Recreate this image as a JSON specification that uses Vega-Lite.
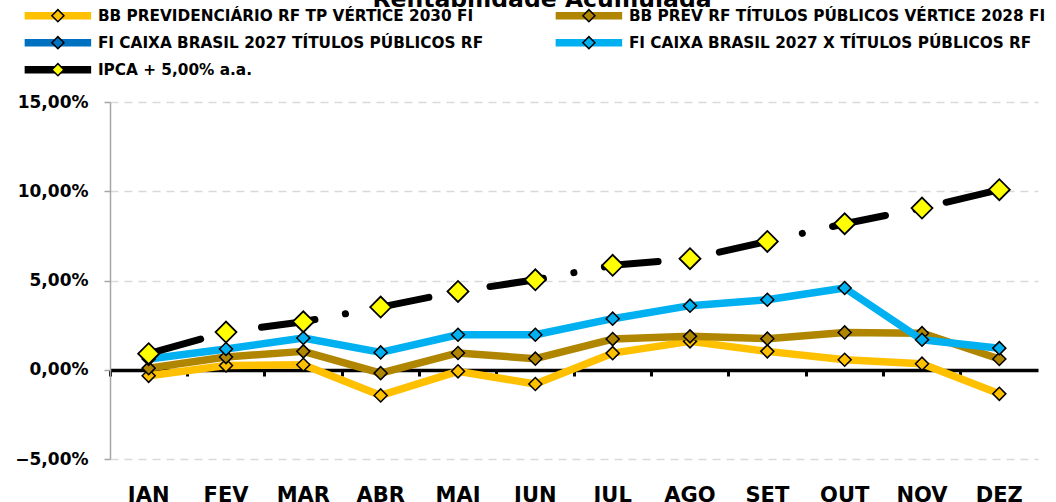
{
  "$schema": "https://vega.github.io/schema/vega-lite/v6.json",
  "width": 928,
  "height": 357,
  "autosize": "none",
  "padding": {"left": 110, "top": 102, "right": 18, "bottom": 43},
  "background": "white",
  "title": {"text": "Rentabilidade Acumulada", "font": "DejaVu Sans", "fontSize": 23.5, "fontWeight": "bold", "color": "black", "anchor": "middle", "frame": "group", "dx": -32, "offset": -25, "baseline": "alphabetic"},
  "config": {"view": {"stroke": null}, "font": "DejaVu Sans"},
  "data": {"values": [
    {"serie": "BB PREVIDENCIÁRIO RF TP VÉRTICE 2030 FI", "mes": "JAN", "v": -0.34},
    {"serie": "BB PREVIDENCIÁRIO RF TP VÉRTICE 2030 FI", "mes": "FEV", "v": 0.24},
    {"serie": "BB PREVIDENCIÁRIO RF TP VÉRTICE 2030 FI", "mes": "MAR", "v": 0.28},
    {"serie": "BB PREVIDENCIÁRIO RF TP VÉRTICE 2030 FI", "mes": "ABR", "v": -1.44},
    {"serie": "BB PREVIDENCIÁRIO RF TP VÉRTICE 2030 FI", "mes": "MAI", "v": -0.09},
    {"serie": "BB PREVIDENCIÁRIO RF TP VÉRTICE 2030 FI", "mes": "JUN", "v": -0.80},
    {"serie": "BB PREVIDENCIÁRIO RF TP VÉRTICE 2030 FI", "mes": "JUL", "v": 0.93},
    {"serie": "BB PREVIDENCIÁRIO RF TP VÉRTICE 2030 FI", "mes": "AGO", "v": 1.59},
    {"serie": "BB PREVIDENCIÁRIO RF TP VÉRTICE 2030 FI", "mes": "SET", "v": 1.03},
    {"serie": "BB PREVIDENCIÁRIO RF TP VÉRTICE 2030 FI", "mes": "OUT", "v": 0.56},
    {"serie": "BB PREVIDENCIÁRIO RF TP VÉRTICE 2030 FI", "mes": "NOV", "v": 0.34},
    {"serie": "BB PREVIDENCIÁRIO RF TP VÉRTICE 2030 FI", "mes": "DEZ", "v": -1.35},
    {"serie": "BB PREV RF TÍTULOS PÚBLICOS VÉRTICE 2028 FI", "mes": "JAN", "v": 0.09},
    {"serie": "BB PREV RF TÍTULOS PÚBLICOS VÉRTICE 2028 FI", "mes": "FEV", "v": 0.71},
    {"serie": "BB PREV RF TÍTULOS PÚBLICOS VÉRTICE 2028 FI", "mes": "MAR", "v": 1.03},
    {"serie": "BB PREV RF TÍTULOS PÚBLICOS VÉRTICE 2028 FI", "mes": "ABR", "v": -0.19},
    {"serie": "BB PREV RF TÍTULOS PÚBLICOS VÉRTICE 2028 FI", "mes": "MAI", "v": 0.94},
    {"serie": "BB PREV RF TÍTULOS PÚBLICOS VÉRTICE 2028 FI", "mes": "JUN", "v": 0.62},
    {"serie": "BB PREV RF TÍTULOS PÚBLICOS VÉRTICE 2028 FI", "mes": "JUL", "v": 1.72},
    {"serie": "BB PREV RF TÍTULOS PÚBLICOS VÉRTICE 2028 FI", "mes": "AGO", "v": 1.87},
    {"serie": "BB PREV RF TÍTULOS PÚBLICOS VÉRTICE 2028 FI", "mes": "SET", "v": 1.74},
    {"serie": "BB PREV RF TÍTULOS PÚBLICOS VÉRTICE 2028 FI", "mes": "OUT", "v": 2.09},
    {"serie": "BB PREV RF TÍTULOS PÚBLICOS VÉRTICE 2028 FI", "mes": "NOV", "v": 2.05},
    {"serie": "BB PREV RF TÍTULOS PÚBLICOS VÉRTICE 2028 FI", "mes": "DEZ", "v": 0.60},
    {"serie": "FI CAIXA BRASIL 2027 X TÍTULOS PÚBLICOS RF", "mes": "JAN", "v": 0.60},
    {"serie": "FI CAIXA BRASIL 2027 X TÍTULOS PÚBLICOS RF", "mes": "FEV", "v": 1.16},
    {"serie": "FI CAIXA BRASIL 2027 X TÍTULOS PÚBLICOS RF", "mes": "MAR", "v": 1.78},
    {"serie": "FI CAIXA BRASIL 2027 X TÍTULOS PÚBLICOS RF", "mes": "ABR", "v": 0.97},
    {"serie": "FI CAIXA BRASIL 2027 X TÍTULOS PÚBLICOS RF", "mes": "MAI", "v": 1.96},
    {"serie": "FI CAIXA BRASIL 2027 X TÍTULOS PÚBLICOS RF", "mes": "JUN", "v": 1.96},
    {"serie": "FI CAIXA BRASIL 2027 X TÍTULOS PÚBLICOS RF", "mes": "JUL", "v": 2.86},
    {"serie": "FI CAIXA BRASIL 2027 X TÍTULOS PÚBLICOS RF", "mes": "AGO", "v": 3.59},
    {"serie": "FI CAIXA BRASIL 2027 X TÍTULOS PÚBLICOS RF", "mes": "SET", "v": 3.92},
    {"serie": "FI CAIXA BRASIL 2027 X TÍTULOS PÚBLICOS RF", "mes": "OUT", "v": 4.58},
    {"serie": "FI CAIXA BRASIL 2027 X TÍTULOS PÚBLICOS RF", "mes": "NOV", "v": 1.68},
    {"serie": "FI CAIXA BRASIL 2027 X TÍTULOS PÚBLICOS RF", "mes": "DEZ", "v": 1.21},
    {"serie": "IPCA + 5,00% a.a.", "mes": "JAN", "v": 0.90},
    {"serie": "IPCA + 5,00% a.a.", "mes": "FEV", "v": 2.11},
    {"serie": "IPCA + 5,00% a.a.", "mes": "MAR", "v": 2.69},
    {"serie": "IPCA + 5,00% a.a.", "mes": "ABR", "v": 3.51},
    {"serie": "IPCA + 5,00% a.a.", "mes": "MAI", "v": 4.39},
    {"serie": "IPCA + 5,00% a.a.", "mes": "JUN", "v": 5.04},
    {"serie": "IPCA + 5,00% a.a.", "mes": "JUL", "v": 5.85},
    {"serie": "IPCA + 5,00% a.a.", "mes": "AGO", "v": 6.22},
    {"serie": "IPCA + 5,00% a.a.", "mes": "SET", "v": 7.19},
    {"serie": "IPCA + 5,00% a.a.", "mes": "OUT", "v": 8.18},
    {"serie": "IPCA + 5,00% a.a.", "mes": "NOV", "v": 9.06},
    {"serie": "IPCA + 5,00% a.a.", "mes": "DEZ", "v": 10.09}
  ]},
  "encoding": {
    "x": {"field": "mes", "type": "ordinal", "sort": ["JAN","FEV","MAR","ABR","MAI","JUN","JUL","AGO","SET","OUT","NOV","DEZ"], "scale": {"type": "band", "paddingInner": 0, "paddingOuter": 0}, "axis": null},
    "y": {"field": "v", "type": "quantitative", "scale": {"domain": [-5, 15], "nice": false, "zero": false},
      "axis": {"title": null, "values": [-5, 0, 5, 10, 15], "labelExpr": "replace(format(datum.value, '.2f'), '.', ',') + '%'",
        "labelFont": "DejaVu Sans", "labelFontWeight": "bold", "labelFontSize": 17, "labelColor": "black", "labelPadding": 16,
        "domainColor": "#A6A6A6", "domainWidth": 1.5, "tickColor": "#A6A6A6", "tickSize": 6, "tickWidth": 1.5,
        "grid": true, "gridColor": "#D9D9D9", "gridDash": [8, 6], "gridWidth": 1.3}}
  },
  "layer": [
    {
      "transform": [{"filter": "datum.serie === 'BB PREVIDENCIÁRIO RF TP VÉRTICE 2030 FI'"}],
      "mark": {"type": "line", "strokeWidth": 7.5, "strokeCap": "round", "strokeJoin": "round"},
      "encoding": {
        "x": {"field": "mes", "type": "ordinal", "sort": ["JAN","FEV","MAR","ABR","MAI","JUN","JUL","AGO","SET","OUT","NOV","DEZ"], "scale": {"type": "band", "paddingInner": 0, "paddingOuter": 0},
          "axis": {"orient": "bottom", "offset": -89, "title": null, "labels": false, "grid": false, "domainColor": "black", "domainWidth": 3.5, "ticks": true, "tickColor": "black", "tickWidth": 3, "tickSize": 6, "bandPosition": 0}},
        "color": {"field": "serie", "type": "nominal",
          "scale": {"domain": ["BB PREVIDENCIÁRIO RF TP VÉRTICE 2030 FI", "BB PREV RF TÍTULOS PÚBLICOS VÉRTICE 2028 FI", "FI CAIXA BRASIL 2027 TÍTULOS PÚBLICOS RF", "FI CAIXA BRASIL 2027 X TÍTULOS PÚBLICOS RF", "IPCA + 5,00% a.a."], "range": ["#FFC000", "#B08600", "#0070C0", "#00B0F0", "#000000"]},
          "legend": {"orient": "none", "direction": "horizontal", "legendX": -89.1, "legendY": -96.3, "columns": 2, "columnPadding": 68, "rowPadding": 7, "clipHeight": 20, "title": null, "padding": 0,
            "symbolType": "stroke", "symbolSize": 4422, "symbolStrokeWidth": 7.5,
            "labelFont": "DejaVu Sans", "labelFontWeight": "bold", "labelFontSize": 15.3, "labelColor": "black", "labelLimit": 700, "labelOffset": 3}}
      }
    },
    {
      "transform": [{"filter": "datum.serie === 'BB PREVIDENCIÁRIO RF TP VÉRTICE 2030 FI'"}],
      "mark": {"type": "point", "shape": "diamond", "filled": true, "size": 170, "stroke": "black", "strokeWidth": 1.5, "opacity": 1},
      "encoding": {
        "x": {"field": "mes", "type": "ordinal", "sort": ["JAN","FEV","MAR","ABR","MAI","JUN","JUL","AGO","SET","OUT","NOV","DEZ"], "scale": {"type": "band", "paddingInner": 0, "paddingOuter": 0},
          "axis": {"orient": "bottom", "title": null, "domain": false, "ticks": false, "grid": false, "labelFont": "DejaVu Sans", "labelFontWeight": "bold", "labelFontSize": 21, "labelColor": "black", "labelPadding": 25, "labelAngle": 0}},
        "fill": {"field": "serie", "type": "nominal",
          "scale": {"domain": ["BB PREVIDENCIÁRIO RF TP VÉRTICE 2030 FI", "BB PREV RF TÍTULOS PÚBLICOS VÉRTICE 2028 FI", "FI CAIXA BRASIL 2027 TÍTULOS PÚBLICOS RF", "FI CAIXA BRASIL 2027 X TÍTULOS PÚBLICOS RF", "IPCA + 5,00% a.a.", "-"], "range": ["#FFC000", "#B08600", "#0070C0", "#00B0F0", "#FFFF00", "#FFFFFF"]},
          "legend": {"values": ["BB PREVIDENCIÁRIO RF TP VÉRTICE 2030 FI", "BB PREV RF TÍTULOS PÚBLICOS VÉRTICE 2028 FI", "FI CAIXA BRASIL 2027 TÍTULOS PÚBLICOS RF", "FI CAIXA BRASIL 2027 X TÍTULOS PÚBLICOS RF", "IPCA + 5,00% a.a."],
            "orient": "none", "direction": "horizontal", "legendX": -89.1, "legendY": -96.3, "columns": 2, "columnPadding": 68, "rowPadding": 7, "clipHeight": 20, "title": null, "padding": 0,
            "symbolType": "M-0.166,0L0,-0.166L0.166,0L0,0.166Z", "symbolSize": 5256, "symbolStrokeWidth": 1.5, "symbolStrokeColor": "black",
            "labelFont": "DejaVu Sans", "labelFontWeight": "bold", "labelFontSize": 15.3, "labelColor": "black", "labelLimit": 700, "labelOffset": 3, "labelOpacity": 0}}
      }
    },
    {
      "transform": [{"filter": "datum.serie === 'BB PREV RF TÍTULOS PÚBLICOS VÉRTICE 2028 FI'"}],
      "mark": {"type": "line", "strokeWidth": 7.5, "strokeCap": "round", "strokeJoin": "round"},
      "encoding": {"color": {"field": "serie", "type": "nominal"}}
    },
    {
      "transform": [{"filter": "datum.serie === 'BB PREV RF TÍTULOS PÚBLICOS VÉRTICE 2028 FI'"}],
      "mark": {"type": "point", "shape": "diamond", "filled": true, "size": 170, "stroke": "black", "strokeWidth": 1.5, "opacity": 1},
      "encoding": {"fill": {"field": "serie", "type": "nominal"}}
    },
    {
      "transform": [{"filter": "datum.serie === 'FI CAIXA BRASIL 2027 X TÍTULOS PÚBLICOS RF'"}],
      "mark": {"type": "line", "strokeWidth": 7.5, "strokeCap": "round", "strokeJoin": "round"},
      "encoding": {"color": {"field": "serie", "type": "nominal"}}
    },
    {
      "transform": [{"filter": "datum.serie === 'FI CAIXA BRASIL 2027 X TÍTULOS PÚBLICOS RF'"}],
      "mark": {"type": "point", "shape": "diamond", "filled": true, "size": 170, "stroke": "black", "strokeWidth": 1.5, "opacity": 1},
      "encoding": {"fill": {"field": "serie", "type": "nominal"}}
    },
    {
      "transform": [{"filter": "datum.serie === 'IPCA + 5,00% a.a.'"}],
      "mark": {"type": "line", "strokeWidth": 7, "strokeCap": "round", "strokeJoin": "round", "strokeDash": [54, 31, 0.1, 31]},
      "encoding": {"color": {"field": "serie", "type": "nominal"}}
    },
    {
      "transform": [{"filter": "datum.serie === 'IPCA + 5,00% a.a.'"}],
      "mark": {"type": "point", "shape": "diamond", "filled": true, "size": 440, "stroke": "black", "strokeWidth": 1.8, "opacity": 1},
      "encoding": {"fill": {"field": "serie", "type": "nominal"}}
    }
  ],
  "resolve": {"axis": {"x": "independent"}}
}
